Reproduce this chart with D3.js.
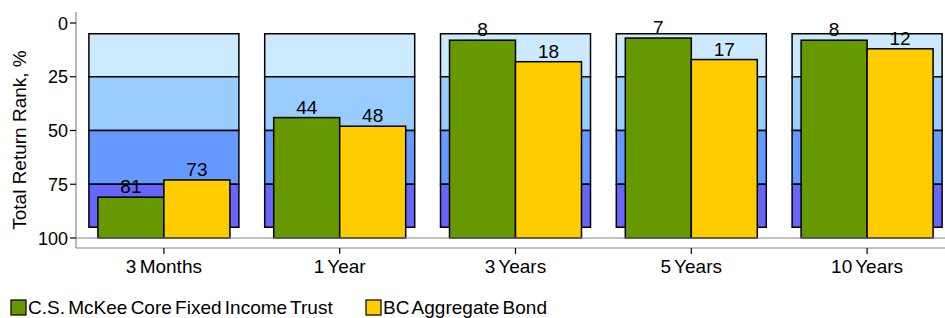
<!DOCTYPE html>
<html>
<head>
<meta charset="utf-8">
<script src="https://cdn.jsdelivr.net/npm/d3@7"></script>
<style>
  body { margin: 0; background: #fff; }
  text { font-family: "Liberation Sans", Arial, sans-serif; fill: #000; }
</style>
</head>
<body>
<div id="vis"></div>
<script>
(function() {
  var categories = ['3 Months', '1 Year', '3 Years', '5 Years', '10 Years'];
  var seriesNames = ['C.S. McKee Core Fixed Income Trust', 'BC Aggregate Bond'];
  var fundRank = [81, 44, 8, 7, 8];
  var indexRank = [73, 48, 18, 17, 12];
  var yTicks = [0, 25, 50, 75, 100];
  var quartiles = [[5, 25], [25, 50], [50, 75], [75, 95]];

  var W = 945, H = 318;
  var quartileColors = ['#cceaff', '#99ccff', '#6699ff', '#6666ff'];
  var seriesColors = ['#669900', '#ffcc00'];

  var svg = d3.select('#vis').append('svg').attr('width', W).attr('height', H);

  var y = d3.scaleLinear().domain([0, 100]).range([23, 238]);
  var x = d3.scaleBand().domain(categories).range([76, 955]);
  var bandW = 150, barW = 66;

  // quartile backgrounds
  var groups = svg.selectAll('g.grp').data(categories).enter().append('g')
    .attr('class', 'grp')
    .attr('transform', function(d) { return 'translate(' + (x(d) + x.bandwidth() / 2) + ',0)'; });

  groups.selectAll('rect.q').data(quartiles).enter().append('rect')
    .attr('class', 'q')
    .attr('x', -bandW / 2).attr('width', bandW)
    .attr('y', function(d) { return y(d[0]); })
    .attr('height', function(d) { return y(d[1]) - y(d[0]); })
    .attr('fill', function(d, i) { return quartileColors[i]; })
    .attr('stroke', '#000').attr('stroke-width', 1.5);

  // baseline at 100 and axes
  svg.append('line').attr('x1', 76).attr('x2', W).attr('y1', y(100)).attr('y2', y(100))
    .attr('stroke', '#888').attr('stroke-width', 1.2);
  svg.append('line').attr('x1', 76).attr('x2', 76).attr('y1', 12).attr('y2', 248)
    .attr('stroke', '#888').attr('stroke-width', 1.2);
  svg.append('line').attr('x1', 76).attr('x2', W).attr('y1', 248).attr('y2', 248)
    .attr('stroke', '#888').attr('stroke-width', 1.2);

  // bars
  var rows = categories.map(function(c, i) { return [fundRank[i], indexRank[i]]; });
  groups.each(function(d, i) {
    var g = d3.select(this);
    g.selectAll('rect.bar').data(rows[i]).enter().append('rect')
      .attr('class', 'bar')
      .attr('x', function(v, j) { return j === 0 ? -barW : 0; })
      .attr('width', barW)
      .attr('y', function(v) { return y(v); })
      .attr('height', function(v) { return y(100) - y(v); })
      .attr('fill', function(v, j) { return seriesColors[j]; })
      .attr('stroke', '#000').attr('stroke-width', 1.5);
    g.selectAll('text.val').data(rows[i]).enter().append('text')
      .attr('class', 'val')
      .attr('x', function(v, j) { return j === 0 ? -barW / 2 : barW / 2; })
      .attr('y', function(v) { return y(v) - 4; })
      .attr('text-anchor', 'middle')
      .style('font-size', '19px')
      .text(function(v) { return v; });
  });

  // y axis ticks
  var yAxis = svg.append('g');
  yAxis.selectAll('line').data(yTicks).enter().append('line')
    .attr('x1', 70).attr('x2', 76)
    .attr('y1', function(d) { return y(d); }).attr('y2', function(d) { return y(d); })
    .attr('stroke', '#000').attr('stroke-width', 1.2);
  yAxis.selectAll('text').data(yTicks).enter().append('text')
    .attr('x', 68).attr('y', function(d) { return y(d) + 6.5; })
    .attr('text-anchor', 'end')
    .style('font-size', '18px')
    .text(function(d) { return d; });

  svg.append('text')
    .attr('transform', 'translate(26,140) rotate(-90)')
    .attr('text-anchor', 'middle')
    .style('font-size', '19px')
    .text('Total Return Rank, %');

  // x axis ticks
  var xAxis = svg.append('g');
  xAxis.selectAll('line').data(categories).enter().append('line')
    .attr('x1', function(d) { return x(d) + x.bandwidth() / 2; })
    .attr('x2', function(d) { return x(d) + x.bandwidth() / 2; })
    .attr('y1', 248).attr('y2', 254)
    .attr('stroke', '#000').attr('stroke-width', 1.2);
  xAxis.selectAll('text').data(categories).enter().append('text')
    .attr('x', function(d) { return x(d) + x.bandwidth() / 2; })
    .attr('y', 273)
    .attr('text-anchor', 'middle')
    .style('font-size', '19px')
    .style('word-spacing', '-2px')
    .text(function(d) { return d; });

  // legend
  var legendX = [11, 366];
  var legend = svg.selectAll('g.leg').data(seriesNames).enter().append('g')
    .attr('class', 'leg')
    .attr('transform', function(d, i) { return 'translate(' + legendX[i] + ',300)'; });
  legend.append('rect').attr('width', 15).attr('height', 15)
    .attr('fill', function(d, i) { return seriesColors[i]; })
    .attr('stroke', '#000').attr('stroke-width', 1.2);
  legend.append('text').attr('x', 17).attr('y', 14)
    .style('font-size', '19px')
    .style('word-spacing', '-2px')
    .text(function(d) { return d; });
}).call(this);
</script>
</body>
</html>
